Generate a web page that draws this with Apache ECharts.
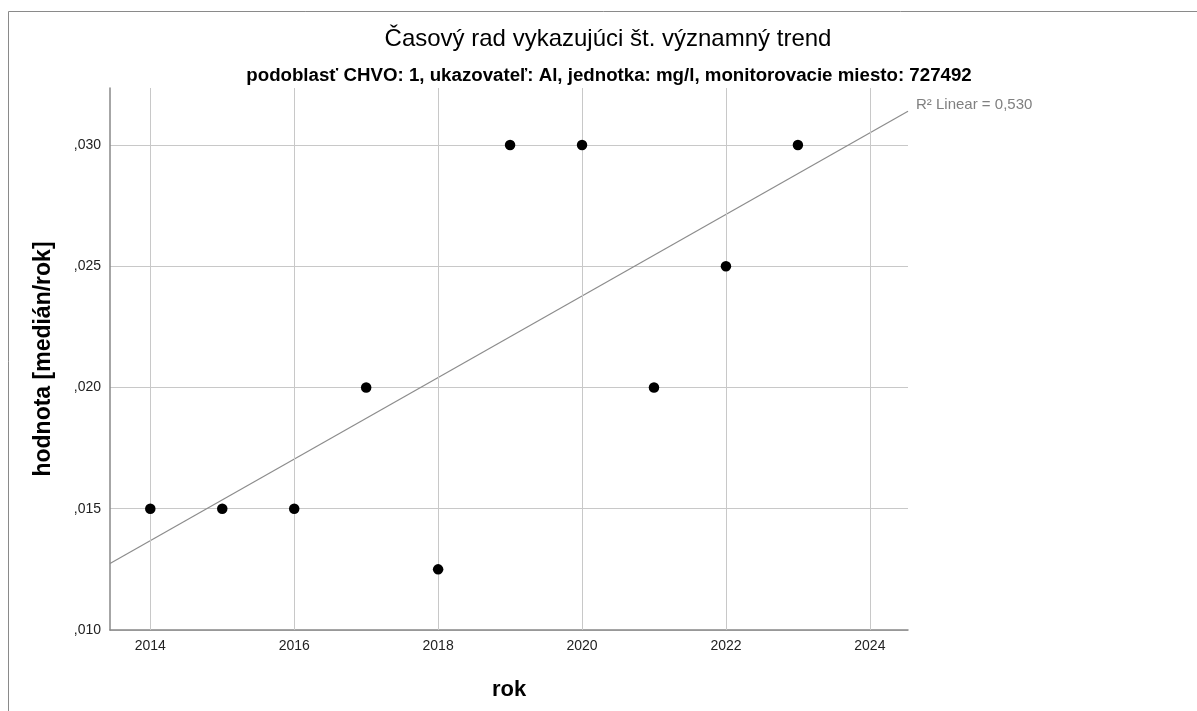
<!DOCTYPE html>
<html><head><meta charset="utf-8">
<script src="https://cdn.jsdelivr.net/npm/echarts@6/dist/echarts.min.js"></script>
<style>html,body{margin:0;padding:0;background:#fff}#c{width:1197px;height:711px}</style>
</head><body><div id="c"></div>
<script>
const years = [2014, 2015, 2016, 2017, 2018, 2019, 2020, 2021, 2022, 2023];
const values = [0.015, 0.015, 0.015, 0.020, 0.0125, 0.030, 0.030, 0.020, 0.025, 0.030];
const xTicks = [2014, 2016, 2018, 2020, 2022, 2024];
const yTicks = [0.010, 0.015, 0.020, 0.025, 0.030];
const titleText = 'Časový rad vykazujúci št. významný trend';
const subText = 'podoblasť CHVO: 1, ukazovateľ: Al, jednotka: mg/l, monitorovacie miesto: 727492';
const fitLabel = 'R² Linear = 0,530';

const xMin = 2013.44, xMax = 2024.53, yMin = 0.010, yMax = 0.03235;

// least squares fit from data
const n = years.length;
const mx = years.reduce((a,b)=>a+b,0)/n;
const my = values.reduce((a,b)=>a+b,0)/n;
let sxy = 0, sxx = 0;
for (let i=0;i<n;i++){ sxy += (years[i]-mx)*(values[i]-my); sxx += (years[i]-mx)**2; }
const slope = sxy/sxx, icpt = my - slope*mx;
const fitLine = [[xMin, icpt+slope*xMin],[xMax, icpt+slope*xMax]];

const FONT = 'Liberation Sans, Arial, sans-serif';
const chart = echarts.init(document.getElementById('c'));
chart.setOption({
  animation: false,
  backgroundColor: '#fff',
  graphic: [{
    type: 'rect', shape: {x: 8.5, y: 11.5, width: 1300, height: 800},
    style: {fill: 'none', stroke: '#8a8a8a', lineWidth: 1}, silent: true
  }],
  title: [
    {text: titleText, left: 603, top: 22, textAlign: 'center',
     textStyle: {fontFamily: FONT, fontSize: 24, fontWeight: 'normal', color: '#000'}},
    {text: subText, left: 604, top: 61, textAlign: 'center',
     textStyle: {fontFamily: FONT, fontSize: 18.7, fontWeight: 'bold', color: '#000'}}
  ],
  grid: {left: 110, right: 289, top: 88, bottom: 81, containLabel: false},
  xAxis: {
    type: 'value', min: xMin, max: xMax,
    name: 'rok', nameLocation: 'middle', nameGap: 49,
    nameTextStyle: {fontFamily: FONT, fontSize: 22, fontWeight: 'bold', color: '#000'},
    axisLine: {show: true, onZero: false, lineStyle: {color: '#888', width: 1.5}},
    axisTick: {show: false},
    splitLine: {show: false},
    axisLabel: {customValues: xTicks, fontFamily: FONT, fontSize: 14, color: '#222', margin: 9,
      formatter: v => String(Math.round(v))}
  },
  yAxis: {
    type: 'value', min: yMin, max: yMax, interval: 0.005,
    name: 'hodnota [medián/rok]', nameLocation: 'middle', nameGap: 55,
    nameTextStyle: {fontFamily: FONT, fontSize: 23, fontWeight: 'bold', color: '#000'},
    axisLine: {show: true, lineStyle: {color: '#888', width: 1.5}},
    axisTick: {show: false},
    splitLine: {show: true, showMaxLine: false, lineStyle: {color: '#c8c8c8', width: 1}},
    axisLabel: {customValues: yTicks, fontFamily: FONT, fontSize: 14, color: '#222', margin: 9,
      formatter: v => ',' + Math.round(v*1000).toString().padStart(3,'0')}
  },
  series: [
    {
      type: 'line', data: [], silent: true,
      markLine: {
        silent: true, symbol: 'none', label: {show: false},
        lineStyle: {color: '#c8c8c8', width: 1, type: 'solid'},
        data: xTicks.map(v => ({xAxis: v}))
      }
    },
    {
      type: 'line', data: fitLine, showSymbol: false, symbol: 'none', silent: true,
      lineStyle: {color: '#8c8c8c', width: 1.2}, z: 3,
      endLabel: {show: true, formatter: fitLabel, fontFamily: FONT, fontSize: 15, color: '#808080',
        offset: [0, -6]}
    },
    {
      type: 'scatter', data: years.map((y,i)=>[y, values[i]]), symbolSize: 10.5,
      itemStyle: {color: '#000', opacity: 1}, z: 5
    }
  ]
});
</script></body></html>
